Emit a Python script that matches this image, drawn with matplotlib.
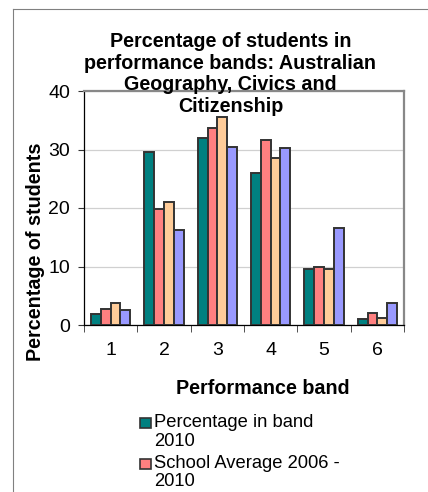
import numpy as np
import matplotlib
matplotlib.use("Agg")
import matplotlib.pyplot as plt
from matplotlib.lines import Line2D
from matplotlib.patches import Rectangle

plt.rcParams['font.family'] = ['Liberation Sans', 'DejaVu Sans']

# Performance bands and the four series per band
bands = [1, 2, 3, 4, 5, 6]
pct_2010 = [1.8, 29.6, 31.9, 26.0, 9.5, 1.1]
school_avg = [2.8, 19.9, 33.6, 31.6, 9.9, 2.1]
state_2010 = [3.7, 21.1, 35.5, 28.6, 9.6, 1.2]
state_avg = [2.6, 16.3, 30.5, 30.3, 16.5, 3.8]

series = [pct_2010, school_avg, state_2010, state_avg]
colors = ['#008080', '#FF8080', '#FFCC99', '#9999FF']
legend_labels = ['Percentage in band\n2010', 'School Average 2006 -\n2010']

W, H = 428, 492
fig = plt.figure(figsize=(W / 100, H / 100), dpi=100)
fig.patch.set_facecolor('white')

# outer chart frame (left and top edges are the only ones in view)
fig.add_artist(Line2D([13 / W, 13 / W], [0, 1 - 9 / H], color='#808080', lw=0.8))
fig.add_artist(Line2D([13 / W, 1], [1 - 9 / H, 1 - 9 / H], color='#808080', lw=0.8))

ax = fig.add_axes([84 / W, 1 - 325 / H, 320 / W, 234 / H])

x = np.arange(len(bands))
bw = 0.183
for i, (vals, col) in enumerate(zip(series, colors)):
    ax.bar(x + (i - 1.5) * bw, vals, bw, color=col, edgecolor='#333333',
           linewidth=1.4, zorder=3)

ax.set_xlim(-0.5, len(bands) - 0.5)
ax.set_ylim(0, 40)
ax.set_yticks([0, 10, 20, 30, 40])
ax.yaxis.grid(True, color='#d0d0d0', linewidth=0.9, zorder=0)

ax.set_xticks(x)
ax.set_xticklabels([str(b) for b in bands])
ax.set_xticks(np.arange(len(bands) + 1) - 0.5, minor=True)
ax.tick_params(axis='x', which='major', length=0, pad=12, labelsize=14)
ax.tick_params(axis='x', which='minor', length=5, direction='out', color='#333333')
ax.tick_params(axis='y', length=4.3, direction='out', pad=5.8, labelsize=14,
               color='#333333')

for side in ['top', 'right']:
    ax.spines[side].set_color('#888888')
    ax.spines[side].set_linewidth(1.6)
for side in ['left', 'bottom']:
    ax.spines[side].set_color('black')
    ax.spines[side].set_linewidth(0.9)

fig.text(230.5 / W, 1 - 32 / H,
         'Percentage of students in\nperformance bands: Australian\nGeography, Civics and\nCitizenship',
         ha='center', va='top', fontsize=14.2, fontweight='bold', linespacing=1.18)
fig.text(35.5 / W, 1 - 252 / H, 'Percentage of students', rotation=90,
         ha='center', va='center', fontsize=14.2, fontweight='bold')
fig.text(263 / W, 1 - 394 / H, 'Performance band', ha='center', va='baseline',
         fontsize=14.2, fontweight='bold')

# legend: square key next to the first line of each wrapped label
for i, lab in enumerate(legend_labels):
    top = 417 + i * 40.5
    fig.add_artist(Rectangle((140 / W, 1 - (top + 11) / H), 11 / W, 10 / H,
                             transform=fig.transFigure, facecolor=colors[i],
                             edgecolor='#333333', linewidth=1.2))
    fig.text(154 / W, 1 - (top - 3) / H, lab, ha='left', va='top',
             fontsize=13.2, linespacing=1.14)

fig.savefig('out.png', dpi=100)
